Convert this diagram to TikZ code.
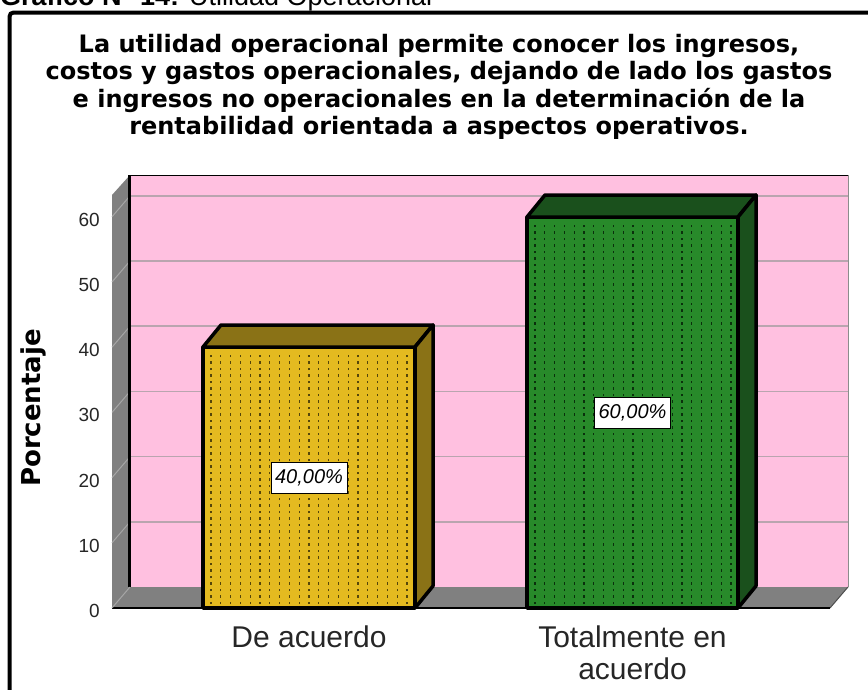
\documentclass[tikz,border=0pt]{standalone}
\usepackage{fontspec}
\setmainfont{Liberation Sans}
\newfontfamily\headfont{DejaVu Sans}
\usetikzlibrary{positioning,calc}

\definecolor{wallpink}{RGB}{255,192,224}
\definecolor{wallgray}{RGB}{128,128,128}
\definecolor{gridgray}{RGB}{185,165,175}
\definecolor{goldfront}{RGB}{228,186,32}
\definecolor{goldside}{RGB}{138,114,22}
\definecolor{golddot}{RGB}{85,70,10}
\definecolor{greenfront}{RGB}{40,138,42}
\definecolor{greenside}{RGB}{26,80,28}
\definecolor{greendot}{RGB}{10,48,12}

\tikzset{
  barface/.style={rectangle, draw=black, line width=3.5pt, line join=round,
    inner sep=0pt, outer sep=0pt, anchor=south west},
  barshade/.style={draw=black, line width=3.5pt, line join=round},
  dotline/.style={line width=1.1pt, dash pattern=on 2.5pt off 4pt},
  pctlbl/.style={draw=black, fill=white, line width=0.8pt, inner xsep=4pt,
    minimum height=31pt, font=\fontsize{20}{22}\selectfont\itshape},
  ticklbl/.style={anchor=east, inner sep=0pt, text=black!85,
    font=\fontsize{19}{21}\selectfont},
  catlbl/.style={align=center, text=black!85, font=\fontsize{30}{32}\selectfont},
  gridline/.style={gridgray, line width=1.5pt},
  sidegrid/.style={black!35, line width=1pt}
}

\begin{document}
\begin{tikzpicture}[x=1pt, y=-1pt]
    \useasboundingbox (0,0) rectangle (868,689);
    \clip (0,0) rectangle (868,689);

    % frame and headings
    \draw[line width=4pt, rounded corners=4pt] (9.5,12.5) rectangle (900,720);
    \node[anchor=base west, inner sep=0pt, font=\fontsize{27}{30}\selectfont] (caption) at (0,5)
      {\textbf{Gráfico N° 14:} Utilidad Operacional};
    \node[anchor=north, align=center, inner sep=0pt,
      font=\headfont\bfseries\fontsize{24}{27.5}\selectfont] (title) at (439,34)
      {La utilidad operacional permite conocer los ingresos,\\
       costos y gastos operacionales, dejando de lado los gastos\\
       e ingresos no operacionales en la determinación de la\\
       rentabilidad orientada a aspectos operativos.};

    % walls
    \fill[wallpink] (130,175) rectangle (848,587);
    \fill[wallgray] (112,195) -- (130,175) -- (130,587) -- (112,608) -- cycle;
    \foreach \v in {10,20,...,60} {
      \draw[gridline] (130,{587-6.52*\v}) -- (848,{587-6.52*\v});
      \draw[sidegrid] (112,{608-6.52*\v}) -- (130,{587-6.52*\v});
    }
    \draw[black, line width=1pt] (130,175) -- (848,175);
    \draw[black!45, line width=1pt] (848,175) -- (848,587);
    \draw[black, line width=3pt] (129,175) -- (129,587);
    \fill[wallgray] (112,608) -- (130,587) -- (848,587) -- (830,608) -- cycle;
    \draw[black!70, line width=1pt] (830,608) -- (848,587);
    \draw[black, line width=1.5pt] (112,608) -- (830,608);
    \draw[sidegrid] (112,608) -- (130,587);

    % axis
    \foreach \v in {0,10,...,60}
      \node[ticklbl] (tick\v) at (100,{611-6.52*\v}) {\v};
    \node[rotate=90, font=\headfont\bfseries\fontsize{26}{28}\selectfont] (ylabel) at (33,408) {Porcentaje};

    % bar 1
    \node[barface, fill=goldfront, minimum width=212pt, minimum height=261pt] (bar1) at (203,608) {};
    \draw[barshade, fill=goldside] (bar1.north west) -- ++(18,-22) -- ($(bar1.north east)+(18,-22)$) -- (bar1.north east) -- cycle;
    \draw[barshade, fill=goldside] (bar1.north east) -- ++(18,-22) -- ($(bar1.south east)+(18,-22)$) -- (bar1.south east) -- cycle;
    \foreach \i in {0,...,20}
      \draw[dotline, golddot] ($(bar1.south west)+(8+9.8*\i,-4)$) -- ($(bar1.north west)+(8+9.8*\i,4)$);

    % bar 2
    \node[barface, fill=greenfront, minimum width=211pt, minimum height=391pt] (bar2) at (527,608) {};
    \draw[barshade, fill=greenside] (bar2.north west) -- ++(18,-22) -- ($(bar2.north east)+(18,-22)$) -- (bar2.north east) -- cycle;
    \draw[barshade, fill=greenside] (bar2.north east) -- ++(18,-22) -- ($(bar2.south east)+(18,-22)$) -- (bar2.south east) -- cycle;
    \foreach \i in {0,...,20}
      \draw[dotline, greendot] ($(bar2.south west)+(8+9.8*\i,-4)$) -- ($(bar2.north west)+(8+9.8*\i,4)$);

    % labels
    \node[pctlbl] (pct1) at (bar1.center) {40,00\%};
    \node[pctlbl] (pct2) at (bar2.center) {60,00\%};
    \node[catlbl, below=14pt of bar1] (cat1) {De acuerdo};
    \node[catlbl, below=14pt of bar2] (cat2) {Totalmente en\\acuerdo};
\end{tikzpicture}
\end{document}
